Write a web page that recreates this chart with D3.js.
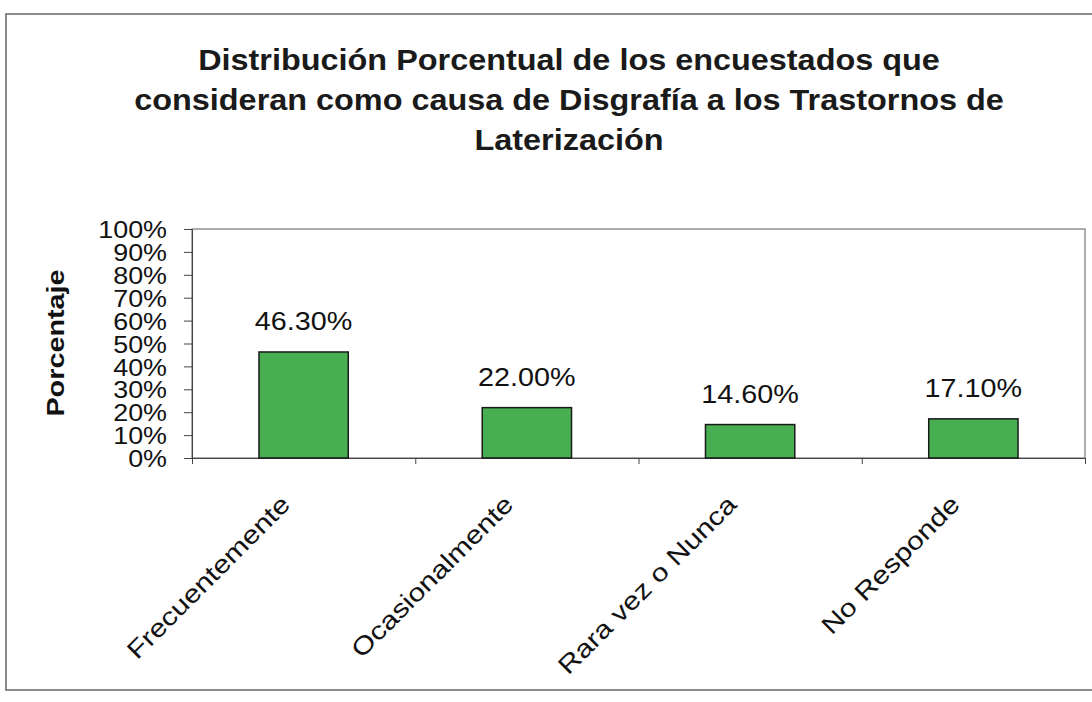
<!DOCTYPE html>
<html>
<head>
<meta charset="utf-8">
<script src="https://cdn.jsdelivr.net/npm/d3@7"></script>
<style>
  body { margin: 0; background: #fff; }
  text { font-family: "Liberation Sans", Arial, sans-serif; fill: #111; }
</style>
</head>
<body>
<div id="chart"></div>
<script>
// Chart data
var categories = ["Frecuentemente", "Ocasionalmente", "Rara vez o Nunca", "No Responde"];
var values = [46.3, 22.0, 14.6, 17.1];
var valueLabels = ["46.30%", "22.00%", "14.60%", "17.10%"];
var yTicks = [0, 10, 20, 30, 40, 50, 60, 70, 80, 90, 100];
var titleLines = [
    "Distribución Porcentual de los encuestados que",
    "consideran como causa de Disgrafía a los Trastornos de",
    "Laterización"
];

var svgWidth = 1092;
var svgHeight = 702;

var margin = { top: 229, right: 7, bottom: 244, left: 192 };
var chartWidth = svgWidth - margin.left - margin.right;
var chartHeight = svgHeight - margin.top - margin.bottom;

// the scanned text is a bit wide, stretch it horizontally
var stretch = 1.12;

var svg = d3.select("#chart")
    .append("svg")
    .attr("width", svgWidth)
    .attr("height", svgHeight);

// outer frame
svg.append("path")
    .attr("d", "M1092,14 L6,14 L6,690 L1092,690")
    .attr("fill", "none")
    .attr("stroke", "#666")
    .attr("stroke-width", 1.5);

// title
svg.append("g").selectAll("text")
    .data(titleLines)
    .enter().append("text")
    .attr("transform", (d, i) => `translate(569, ${70 + i * 40}) scale(1.08, 1)`)
    .attr("text-anchor", "middle")
    .style("font-size", "30px")
    .style("font-weight", "bold")
    .style("fill", "#1a1a1a")
    .text(d => d);

var chartGroup = svg.append("g")
    .attr("transform", `translate(${margin.left}, ${margin.top})`);

var xScale = d3.scaleBand()
    .domain(categories)
    .range([0, chartWidth])
    .paddingInner(0.6)
    .paddingOuter(0.3);

var xBounds = d3.scaleLinear()
    .domain([0, categories.length])
    .range([0, chartWidth]);

var yScale = d3.scaleLinear()
    .domain([0, 100])
    .range([chartHeight, 0]);

// plot frame
chartGroup.append("rect")
    .attr("width", chartWidth)
    .attr("height", chartHeight)
    .attr("fill", "none")
    .attr("stroke", "#777")
    .attr("stroke-width", 1.2);

// left axis
var leftAxis = d3.axisLeft(yScale)
    .tickValues(yTicks)
    .tickSize(8)
    .tickFormat(d => d + "%");

var yAxisG = chartGroup.append("g").call(leftAxis);
yAxisG.select(".domain").attr("stroke", "#444");
yAxisG.selectAll(".tick line").attr("stroke", "#444");
yAxisG.selectAll(".tick text")
    .attr("x", null)
    .attr("dy", "0.36em")
    .attr("transform", `translate(-25, 0) scale(${stretch}, 1)`)
    .style("font-size", "24px")
    .style("font-family", "'Liberation Sans', Arial, sans-serif")
    .attr("fill", "#111");

// bottom axis with ticks at category boundaries
var bottomAxis = d3.axisBottom(xBounds)
    .tickValues(d3.range(categories.length + 1))
    .tickSize(6)
    .tickFormat("");

var xAxisG = chartGroup.append("g")
    .attr("transform", `translate(0, ${chartHeight})`)
    .call(bottomAxis);
xAxisG.select(".domain").attr("stroke", "#444");
xAxisG.selectAll(".tick line").attr("stroke", "#444");

// bars
chartGroup.selectAll(".bar")
    .data(values)
    .enter().append("rect")
    .attr("class", "bar")
    .attr("x", (d, i) => xScale(categories[i]))
    .attr("y", d => yScale(d))
    .attr("width", xScale.bandwidth())
    .attr("height", d => chartHeight - yScale(d))
    .attr("fill", "#47ae52")
    .attr("stroke", "#1a1a1a")
    .attr("stroke-width", 1.5);

// value labels
chartGroup.selectAll(".vlabel")
    .data(values)
    .enter().append("text")
    .attr("class", "vlabel")
    .attr("transform", (d, i) => {
        var cx = xScale(categories[i]) + xScale.bandwidth() / 2;
        return `translate(${cx}, ${yScale(d) - 22}) scale(1.15, 1)`;
    })
    .attr("text-anchor", "middle")
    .style("font-size", "25px")
    .text((d, i) => valueLabels[i]);

// category labels, rotated
chartGroup.selectAll(".clabel")
    .data(categories)
    .enter().append("text")
    .attr("class", "clabel")
    .attr("transform", (d) => {
        var cx = xScale(d) + xScale.bandwidth() / 2 - 12;
        return `translate(${cx}, ${chartHeight + 48}) rotate(-45) scale(1.2, 1)`;
    })
    .attr("text-anchor", "end")
    .style("font-size", "25px")
    .text(d => d);

// y axis title
chartGroup.append("text")
    .attr("transform", `translate(-128, ${343 - margin.top}) rotate(-90) scale(1.2, 1)`)
    .attr("text-anchor", "middle")
    .style("font-size", "24px")
    .style("font-weight", "bold")
    .text("Porcentaje");
</script>
</body>
</html>
